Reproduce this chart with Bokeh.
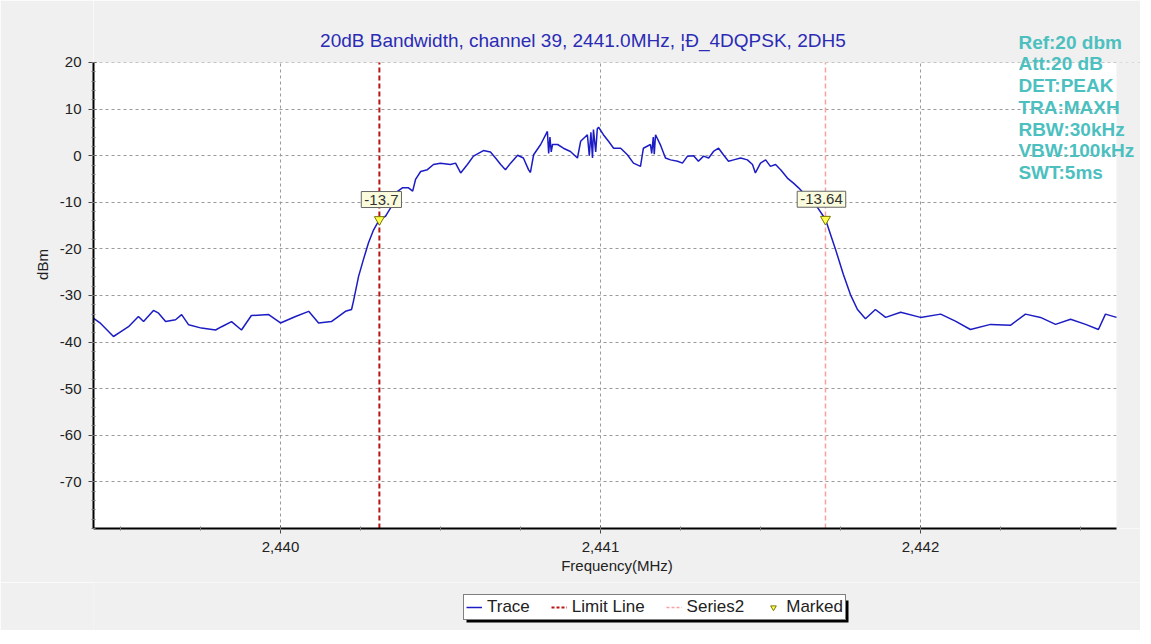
from bokeh.plotting import figure
from bokeh.models import (Range1d, FixedTicker, NumeralTickFormatter, PrintfTickFormatter,
                          Label, Legend, LegendItem)
from bokeh.layouts import column
from bokeh.embed import file_html
from bokeh.resources import INLINE

# ---- data ----
freq = [2439.416, 2439.438, 2439.478, 2439.500, 2439.525, 2439.556, 2439.572, 2439.603,
        2439.619, 2439.641, 2439.672, 2439.691, 2439.713, 2439.753, 2439.797, 2439.816,
        2439.847, 2439.878, 2439.909, 2439.963, 2440.000, 2440.047, 2440.088, 2440.119,
        2440.159, 2440.203, 2440.222, 2440.228, 2440.244, 2440.259, 2440.275, 2440.291,
        2440.309, 2440.328, 2440.344, 2440.359, 2440.381, 2440.400, 2440.413, 2440.422,
        2440.438, 2440.459, 2440.478, 2440.500, 2440.531, 2440.547, 2440.563, 2440.584,
        2440.603, 2440.634, 2440.656, 2440.672, 2440.688, 2440.703, 2440.719, 2440.741,
        2440.759, 2440.775, 2440.781, 2440.791, 2440.813, 2440.834, 2440.838, 2440.842,
        2440.846, 2440.850, 2440.866,
        2440.884, 2440.906, 2440.928, 2440.938, 2440.959, 2440.965, 2440.970, 2440.975,
        2440.978, 2440.985, 2440.990, 2440.994, 2441.009,
        2441.025, 2441.041, 2441.063, 2441.084, 2441.103, 2441.125, 2441.134, 2441.156,
        2441.160, 2441.165, 2441.168,
        2441.172, 2441.188, 2441.203, 2441.219, 2441.241, 2441.256, 2441.272, 2441.291,
        2441.306, 2441.322, 2441.338, 2441.353, 2441.369, 2441.384, 2441.400, 2441.416,
        2441.438, 2441.459, 2441.475, 2441.484, 2441.500, 2441.516, 2441.531, 2441.547,
        2441.563, 2441.584, 2441.603, 2441.619, 2441.641, 2441.672, 2441.703, 2441.734,
        2441.759, 2441.781, 2441.803, 2441.828, 2441.859, 2441.891, 2441.938, 2442.000,
        2442.063, 2442.109, 2442.156, 2442.219, 2442.281, 2442.328, 2442.375, 2442.422,
        2442.469, 2442.516, 2442.556, 2442.578, 2442.6125]
level = [-34.9, -36.0, -38.8, -37.8, -36.7, -34.5, -35.6, -33.2,
         -33.8, -35.6, -35.2, -34.1, -36.3, -37.0, -37.4, -36.7,
         -35.6, -37.4, -34.3, -34.1, -35.9, -34.5, -33.4, -35.9,
         -35.6, -33.4, -33.0, -31.2, -25.9, -22.3, -18.7, -15.9,
         -13.7, -13.0, -11.2, -8.0, -6.9, -6.9, -7.6, -5.1,
         -3.4, -3.0, -1.9, -1.6, -1.9, -1.6, -3.7, -1.9,
         -0.1, 1.1, 0.8, -0.5, -1.9, -3.0, -1.6, 0.1,
         -0.5, -3.0, -3.6, 0.2, 2.4, 5.2, 0.5, 4.0,
         0.8, 2.4, 2.4,
         1.6, 0.9, -0.5, 3.1, 4.5, 0.0, 5.0, -0.5,
         5.6, 0.8, 5.8, 6.1, 4.5,
         3.1, 1.6, 1.6, 0.2, -1.6, -2.3, 1.6, 2.4,
         0.5, 4.0, 0.3,
         4.5, 2.2, -0.5, -0.9, -1.2, -1.6, -0.1, 0.0,
         -1.2, -0.1, -0.5, 0.9, 1.6, 0.2, -1.2, -0.9,
         -0.5, -0.9, -1.9, -3.7, -1.6, -0.9, -2.3, -1.9,
         -3.0, -4.8, -5.9, -6.9, -8.5, -10.5, -13.64, -20.0,
         -25.5, -29.8, -33.0, -35.0, -33.0, -34.7, -33.6, -34.7,
         -34.0, -35.5, -37.3, -36.2, -36.4, -34.0, -34.7, -36.2,
         -35.1, -36.2, -37.3, -34.0, -34.7]

marker_freq = [2440.309, 2441.703]
marker_level = [-13.7, -13.64]
marker_text = ["-13.7", "-13.64"]

limit_freq = 2440.309
series2_freq = 2441.703

x_ticks = [2440, 2441, 2442]
y_ticks = [-70, -60, -50, -40, -30, -20, -10, 0, 10, 20]
plot_x = (2439.4156, 2442.6125)     # extent of the chart area
plot_y = (-80, 20)
view_x = (2439.4156, 2442.6875)     # canvas extent incl. header / right margin
view_y = (-80, 33.3)

legend_labels = ["Trace", "Limit Line", "Series2", "Marked"]

title_text = "20dB Bandwidth, channel 39, 2441.0MHz, \u00a6\u00d0_4DQPSK, 2DH5"
info_lines = ["Ref:20 dbm", "Att:20 dB", "DET:PEAK", "TRA:MAXH", "RBW:30kHz",
              "VBW:100kHz", "SWT:5ms"]
info_y = [24.3, 19.8, 15.1, 10.4, 5.6, 1.1, -3.6]
info_x = 2442.306

FONT = "Liberation Sans"
BG = "#f0f0f0"
TRACE_C, LIMIT_C, S2_C = "#1c1cc4", "#b81414", "#f4a2a2"

p = figure(width=1140, height=582, output_backend="svg", toolbar_location=None,
           x_range=Range1d(*view_x), y_range=Range1d(*view_y),
           min_border_left=93, min_border_right=0, min_border_top=0,
           min_border_bottom=54)
p.title.visible = False
p.border_fill_color = BG
p.background_fill_color = "white"
p.outline_line_color = None

# axes
p.xaxis.ticker = FixedTicker(ticks=x_ticks,
                             minor_ticks=[2439.5 + 0.25 * i for i in range(13)])
p.yaxis.ticker = FixedTicker(ticks=y_ticks, minor_ticks=list(range(-80, 21, 2)))
p.xaxis.formatter = NumeralTickFormatter(format="0,0")
p.yaxis.formatter = PrintfTickFormatter(format="%d")
p.xaxis.bounds = plot_x
p.yaxis.bounds = plot_y
for ax in (p.xaxis, p.yaxis):
    ax.axis_line_color = "black"
    ax.axis_line_width = 2
    ax.major_tick_line_color = "#444444"
    ax.minor_tick_line_color = "#777777"
    ax.major_tick_out = 5
    ax.major_tick_in = 3
    ax.minor_tick_out = 2
    ax.minor_tick_in = 2
    ax.major_label_text_font = FONT
    ax.major_label_text_font_size = "15px"
    ax.major_label_text_color = "#222222"
    ax.axis_label_text_font = FONT
    ax.axis_label_text_font_size = "15px"
    ax.axis_label_text_font_style = "normal"
    ax.axis_label_text_color = "#222222"
p.xaxis.axis_label = "Frequency(MHz)"
p.yaxis.axis_label = "dBm"
p.xaxis.major_label_standoff = 8
p.yaxis.major_label_standoff = 7
p.xaxis.axis_label_standoff = 2
p.yaxis.axis_label_standoff = 6

p.grid.grid_line_color = "#9a9a9a"
p.grid.grid_line_dash = "3 3"
p.grid.grid_line_width = 1

# mask the header band and right margin with the background colour
p.quad(left=view_x[0], right=view_x[1], bottom=plot_y[1], top=view_y[1],
       fill_color=BG, line_color=None)
p.quad(left=plot_x[1], right=view_x[1], bottom=plot_y[0], top=plot_y[1],
       fill_color=BG, line_color=None)

# vertical lines
p.line([limit_freq, limit_freq], list(plot_y), line_color=LIMIT_C,
       line_width=2, line_dash="5 3")
p.line([series2_freq, series2_freq], list(plot_y), line_color=S2_C,
       line_width=1.5, line_dash="5 3")

# trace
p.line(freq, level, line_color=TRACE_C, line_width=1.5)

# marker labels
marker_dx = [2, -4]
for fx, fy, t, dx in zip(marker_freq, marker_level, marker_text, marker_dx):
    p.add_layout(Label(x=fx, y=fy, text=t, x_offset=dx, y_offset=12,
                       text_align="center", text_baseline="bottom",
                       text_font=FONT, text_font_size="15px", text_color="#333333",
                       background_fill_color="#fafadc", border_line_color="#666666",
                       border_line_width=1, padding=3))

p.scatter(marker_freq, marker_level, marker="inverted_triangle", size=10,
          fill_color="#ffff50", line_color="#777700", line_width=1)

# title
p.add_layout(Label(x=2440.945, y=24.7, text=title_text, text_align="center",
                   text_baseline="middle", text_font=FONT, text_font_size="19px",
                   text_color="#2b2bb5"))

# info text
for t, yy in zip(info_lines, info_y):
    p.add_layout(Label(x=info_x, y=yy, text=t, text_align="left", text_baseline="middle",
                       text_font=FONT, text_font_size="19px", text_font_style="bold",
                       text_color="#4cc0bf"))

# ---- legend strip (separate canvas below the chart, 1 data unit = 1 px) ----
q = figure(width=1140, height=48, output_backend="svg", toolbar_location=None,
           x_range=Range1d(93, 1140), y_range=Range1d(0, 48), min_border=0)
q.title.visible = False
q.axis.visible = False
q.grid.visible = False
q.outline_line_color = None
q.border_fill_color = BG
q.background_fill_color = BG
# drop shadow of the legend box
q.quad(left=466, right=848, top=30, bottom=8, fill_color="black", line_color=None)
dummy_x, dummy_y = [-50, -40], [-50, -40]   # off-canvas; only the legend glyphs show
l1 = q.line(dummy_x, dummy_y, line_color=TRACE_C, line_width=1.5)
l2 = q.line(dummy_x, dummy_y, line_color=LIMIT_C, line_width=2, line_dash="3 2")
l3 = q.line(dummy_x, dummy_y, line_color=S2_C, line_width=1.5, line_dash="3 2")
l4 = q.scatter(dummy_x, dummy_y, marker="inverted_triangle", size=10,
               fill_color="#ffff50", line_color="#777700", line_width=1)
legend = Legend(items=[LegendItem(label=lab, renderers=[r])
                       for lab, r in zip(legend_labels, [l1, l2, l3, l4])],
                orientation="horizontal", location=(370, 10))
legend.label_text_font = FONT
legend.label_text_font_size = "17px"
legend.label_text_color = "#222222"
legend.border_line_color = "black"
legend.border_line_width = 1
legend.background_fill_color = "white"
legend.background_fill_alpha = 1
legend.padding = 2
legend.margin = 0
legend.spacing = 21
legend.glyph_width = 16
legend.glyph_height = 14
legend.label_standoff = 5
legend.label_height = 16
q.add_layout(legend, "center")

layout = column(p, q, spacing=0)
open("out.html", "w").write(file_html(layout, INLINE))
